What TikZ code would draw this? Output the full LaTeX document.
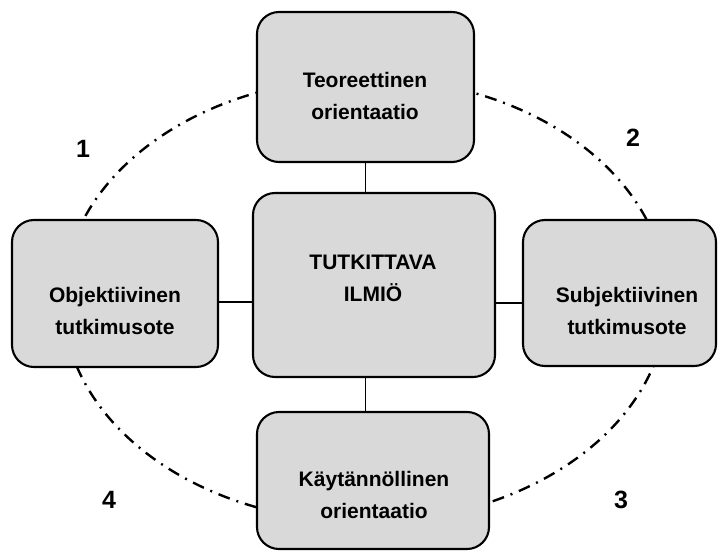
\documentclass[tikz,border=0pt]{standalone}
\usepackage{fontspec}
\setmainfont{Liberation Sans}
\begin{document}
\begin{tikzpicture}[x=1pt,y=-1pt,
  box/.style={draw=black, line width=2.1pt, fill=boxgray, rounded corners=22pt, inner sep=0pt},
  lbl/.style={font=\fontsize{21}{32}\selectfont\bfseries, align=center, inner sep=0pt},
  num/.style={font=\fontsize{25}{30}\selectfont\bfseries, inner sep=0pt},
  link/.style={draw=black, line width=1.7pt},
  orbit/.style={draw=black, line width=2.4pt, dash pattern=on 12pt off 7pt on 2pt off 7pt}]
\definecolor{boxgray}{HTML}{D9D9D9}
\useasboundingbox (0,0) rectangle (718,551);

% dash-dotted ellipse behind the boxes
\draw[orbit] (365,300) ellipse [x radius=302pt, y radius=222pt];

% boxes
\node[box, minimum width=217pt, minimum height=150pt] (top) at (365.5,87) {};
\node[box, minimum width=242pt, minimum height=184pt] (ctr) at (374,285) {};
\node[box, minimum width=206pt, minimum height=147pt] (lft) at (115,293.5) {};
\node[box, minimum width=193pt, minimum height=146pt] (rgt) at (619.5,293) {};
\node[box, minimum width=232pt, minimum height=137pt] (bot) at (373,480.5) {};

% box texts
\node[lbl] (topT) at (365,95.5) {Teoreettinen\\orientaatio};
\node[lbl] (ctrT) at (373,278) {TUTKITTAVA\\ILMIÖ};
\node[lbl] (lftT) at (115,311) {Objektiivinen\\tutkimusote};
\node[lbl] (rgtT) at (627,311) {Subjektiivinen\\tutkimusote};
\node[lbl] (botT) at (374,494.5) {Käytännöllinen\\orientaatio};

% connectors
\draw[link] (top.south) -- (top.south |- ctr.north);
\draw[link] (ctr.south -| top.south) -- (top.south |- bot.north);
\draw[link] ([yshift=-8.5pt]lft.east) -- ([yshift=-8.5pt]lft.east -| ctr.west);
\draw[link] ([yshift=-10pt]rgt.west) -- ([yshift=-10pt]rgt.west -| ctr.east);

% quadrant numbers
\node[num] (n1) at (83,149) {1};
\node[num] (n2) at (633,138) {2};
\node[num] (n3) at (621,500) {3};
\node[num] (n4) at (109,500) {4};
\end{tikzpicture}
\end{document}
